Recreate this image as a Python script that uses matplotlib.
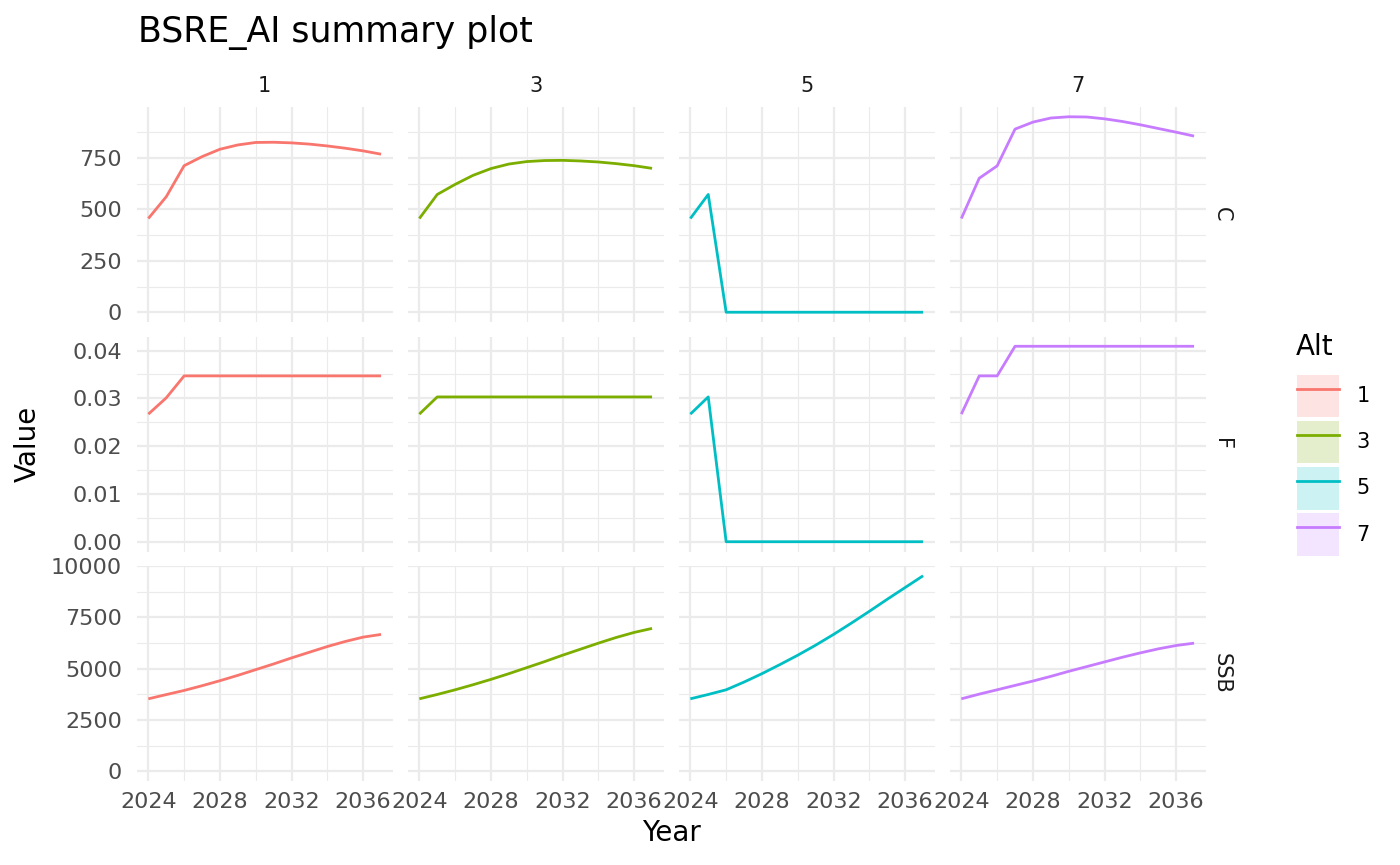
import matplotlib
matplotlib.use('Agg')
import matplotlib.pyplot as plt
from matplotlib.ticker import MultipleLocator, FormatStrFormatter
from matplotlib.patches import Patch
from matplotlib.lines import Line2D

years = [2024, 2025, 2026, 2027, 2028, 2029, 2030, 2031, 2032, 2033, 2034, 2035, 2036, 2037]
alts = ['1', '3', '5', '7']
metrics = ['C', 'F', 'SSB']
colors = ['#F8766D', '#7CAE00', '#00BFC4', '#C77CFF']

C_alt1 = [456, 562, 713, 757, 793, 814, 826, 827, 824, 818, 809, 798, 785, 769]
C_alt3 = [456, 573, 622, 666, 699, 721, 733, 738, 739, 736, 731, 723, 713, 700]
C_alt5 = [456, 573, 0, 0, 0, 0, 0, 0, 0, 0, 0, 0, 0, 0]
C_alt7 = [456, 652, 712, 891, 925, 945, 951, 950, 941, 928, 912, 894, 876, 857]

F_alt1 = [0.0267, 0.0301, 0.0347, 0.0347, 0.0347, 0.0347, 0.0347, 0.0347, 0.0347, 0.0347, 0.0347, 0.0347, 0.0347, 0.0347]
F_alt3 = [0.0267, 0.0303, 0.0303, 0.0303, 0.0303, 0.0303, 0.0303, 0.0303, 0.0303, 0.0303, 0.0303, 0.0303, 0.0303, 0.0303]
F_alt5 = [0.0267, 0.0303, 0.0, 0.0, 0.0, 0.0, 0.0, 0.0, 0.0, 0.0, 0.0, 0.0, 0.0, 0.0]
F_alt7 = [0.0267, 0.0347, 0.0347, 0.0409, 0.0409, 0.0409, 0.0409, 0.0409, 0.0409, 0.0409, 0.0409, 0.0409, 0.0409, 0.0409]

SSB_alt1 = [3529, 3735, 3937, 4167, 4412, 4673, 4951, 5229, 5523, 5801, 6078, 6324, 6536, 6667]
SSB_alt3 = [3529, 3741, 3969, 4216, 4477, 4755, 5049, 5343, 5654, 5948, 6242, 6520, 6765, 6961]
SSB_alt5 = [3529, 3741, 3969, 4346, 4755, 5196, 5654, 6144, 6667, 7222, 7794, 8382, 8954, 9526]
SSB_alt7 = [3529, 3758, 3969, 4183, 4395, 4624, 4869, 5098, 5327, 5556, 5768, 5964, 6127, 6242]

data = {
    'C': [C_alt1, C_alt3, C_alt5, C_alt7],
    'F': [F_alt1, F_alt3, F_alt5, F_alt7],
    'SSB': [SSB_alt1, SSB_alt3, SSB_alt5, SSB_alt7],
}

plt.rcParams['font.family'] = ['DejaVu Sans']

W, H = 1400, 865
fig = plt.figure(figsize=(14, 8.65), dpi=100)
fig.patch.set_facecolor('white')

col_left = [136.7, 407.7, 678.7, 949.7]
col_w = 256.0
row_top = [107.0, 336.5, 566.0]
row_h = 215.0

grid_col = '#EBEBEB'
tick_col = '#4D4D4D'
strip_col = '#1A1A1A'

major_y = {'C': 250, 'F': 0.01, 'SSB': 2500}
fmt_y = {'C': '%d', 'F': '%.2f', 'SSB': '%d'}

axes = {}
for r, m in enumerate(metrics):
    allv = [v for series in data[m] for v in series] + [0]
    lo, hi = min(allv), max(allv)
    pad = 0.05 * (hi - lo)
    for c, a in enumerate(alts):
        rect = [col_left[c] / W, 1 - (row_top[r] + row_h) / H, col_w / W, row_h / H]
        ax = fig.add_axes(rect)
        axes[(r, c)] = ax
        ax.plot(years, data[m][c], color=colors[c], lw=2.0, solid_capstyle='butt', zorder=3)
        x_pad = 0.05 * (years[-1] - years[0])
        ax.set_xlim(years[0] - x_pad, years[-1] + x_pad)
        ax.set_ylim(lo - pad, hi + pad)
        for s in ax.spines.values():
            s.set_visible(False)
        ax.xaxis.set_major_locator(MultipleLocator(4))
        ax.xaxis.set_minor_locator(MultipleLocator(2))
        ax.yaxis.set_major_locator(MultipleLocator(major_y[m]))
        ax.yaxis.set_minor_locator(MultipleLocator(major_y[m] / 2))
        ax.yaxis.set_major_formatter(FormatStrFormatter(fmt_y[m]))
        ax.grid(True, which='major', color=grid_col, lw=1.6, zorder=0)
        ax.grid(True, which='minor', color=grid_col, lw=0.8, zorder=0)
        ax.set_axisbelow(True)
        ax.tick_params(which='both', length=0, labelsize=16, labelcolor=tick_col)
        ax.tick_params(axis='y', pad=10.5)
        ax.tick_params(axis='x', pad=8)
        if c != 0:
            ax.tick_params(axis='y', labelleft=False)
        if r != 2:
            ax.tick_params(axis='x', labelbottom=False)
        if r == 0:
            ax.text(0.5, 1 + 21 / row_h, a, transform=ax.transAxes, ha='center', va='center',
                    fontsize=15, color=strip_col)
        if c == 3:
            ax.text(1 + 16.3 / col_w, 0.5, m, transform=ax.transAxes, ha='center', va='center',
                    rotation=270, fontsize=15, color=strip_col)

fig.text(137.5 / W, 1 - 41.7 / H, 'BSRE_AI summary plot', fontsize=25, ha='left', va='baseline', color='black')
fig.text(28 / W, 1 - 444 / H, 'Value', fontsize=20, rotation=90, ha='center', va='center')
fig.text(671 / W, 1 - 833 / H, 'Year', fontsize=20, ha='center', va='center')

# legend
fig.text(1296 / W, 1 - 355 / H, 'Alt', fontsize=20, ha='left', va='baseline', color='black')
handles = []
for col in colors:
    handles.append((Patch(facecolor=col, alpha=0.2, edgecolor='none'),
                    Line2D([], [], color=col, lw=2.0)))
leg = fig.legend(handles, alts, loc='upper left', bbox_to_anchor=(1297 / W, 1 - 375 / H),
                 frameon=False, fontsize=15,
                 handlelength=2.0, handleheight=2.76, labelspacing=0.17, handletextpad=0.85,
                 borderpad=0, borderaxespad=0)

fig.savefig('out.png', dpi=100, facecolor='white')
